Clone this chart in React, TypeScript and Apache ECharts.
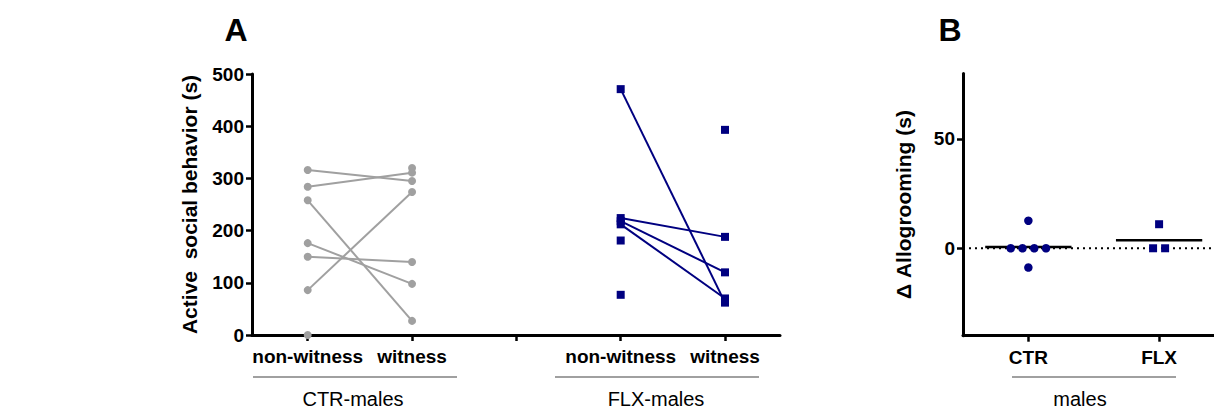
import React, { useEffect, useRef } from "react";
import * as echarts from "echarts";

// ---------- Panel A data ----------
const groupLabelsA = ["non-witness", "witness", "", "non-witness", "witness"];
const groupTitlesA = ["CTR-males", "FLX-males"];
// paired values (null = unpaired animal)
const ctrNonWitness = [316, 284, 258, 176, 150, 86, 0, null];
const ctrWitness = [295, 311, 27, 98, 140, 274, null, 320];
const flxNonWitness = [471, 224, 218, 212, 181, 77, null];
const flxWitness = [62, 188, 120, 70, null, null, 393];
const yTicksA = [0, 100, 200, 300, 400, 500];

// ---------- Panel B data ----------
const groupLabelsB = ["CTR", "FLX"];
const groupTitleB = "males";
const ctrDelta = [0, 0, 0, 0, 12.6, -8.8];
const ctrJitter = [-0.135, -0.045, 0.045, 0.135, 0, 0];
const flxDelta = [11, 0, 0];
const flxJitter = [0, -0.046, 0.046];
const yTicksB = [0, 50];

const FONT = '"Liberation Sans", Arial, Helvetica, sans-serif';
const GRAY = "#a0a0a0";
const NAVY = "#000080";

function pairSeries(a: (number | null)[], b: (number | null)[], xa: number, xb: number, color: string) {
  const out: any[] = [];
  a.forEach((v, i) => {
    const w = b[i];
    if (v != null && w != null) {
      out.push({
        type: "line",
        xAxisIndex: 0,
        yAxisIndex: 0,
        data: [[xa, v], [xb, w]],
        symbol: "none",
        silent: true,
        lineStyle: { color, width: 2 },
        z: 2,
      });
    }
  });
  return out;
}

function points(a: (number | null)[], x: number) {
  return a.filter((v) => v != null).map((v) => [x, v]);
}

const mean = (arr: number[]) => arr.reduce((s, v) => s + v, 0) / arr.length;

export default function App() {
  const ref = useRef<HTMLDivElement>(null);
  useEffect(() => {
    document.body.style.margin = "0";
    if (!ref.current) return;
    const chart = echarts.init(ref.current, undefined, { renderer: "svg" });

    const axisLine = { show: true, onZero: false, lineStyle: { color: "#000", width: 3 } };
    const axisTick = { show: true, length: 6, lineStyle: { color: "#000", width: 2.5 } };
    const labelBase = { color: "#000", fontFamily: FONT, fontWeight: "bold" as const };

    const series: any[] = [
      ...pairSeries(ctrNonWitness, ctrWitness, 1, 2, GRAY),
      ...pairSeries(flxNonWitness, flxWitness, 4, 5, NAVY),
      {
        type: "scatter",
        xAxisIndex: 0,
        yAxisIndex: 0,
        symbol: "circle",
        symbolSize: 8,
        itemStyle: { color: GRAY, opacity: 1 },
        data: [...points(ctrNonWitness, 1), ...points(ctrWitness, 2)],
        z: 3,
      },
      {
        type: "scatter",
        xAxisIndex: 0,
        yAxisIndex: 0,
        symbol: "rect",
        symbolSize: 8,
        itemStyle: { color: NAVY, opacity: 1 },
        data: [...points(flxNonWitness, 4), ...points(flxWitness, 5)],
        z: 3,
      },
      // panel B
      {
        type: "line",
        xAxisIndex: 1,
        yAxisIndex: 1,
        data: [[0.5, 0], [2.42, 0]],
        symbol: "none",
        silent: true,
        lineStyle: { color: "#000", width: 2, type: [2, 4] },
        z: 1,
      },
      {
        type: "line",
        xAxisIndex: 1,
        yAxisIndex: 1,
        data: [[1 - 0.33, mean(ctrDelta)], [1 + 0.33, mean(ctrDelta)]],
        symbol: "none",
        silent: true,
        lineStyle: { color: "#000", width: 2.5 },
        z: 2,
      },
      {
        type: "line",
        xAxisIndex: 1,
        yAxisIndex: 1,
        data: [[2 - 0.33, mean(flxDelta)], [2 + 0.33, mean(flxDelta)]],
        symbol: "none",
        silent: true,
        lineStyle: { color: "#000", width: 2.5 },
        z: 2,
      },
      {
        type: "scatter",
        xAxisIndex: 1,
        yAxisIndex: 1,
        symbol: "circle",
        symbolSize: 8.5,
        itemStyle: { color: NAVY, opacity: 1 },
        data: ctrDelta.map((v, i) => [1 + ctrJitter[i], v]),
        z: 3,
      },
      {
        type: "scatter",
        xAxisIndex: 1,
        yAxisIndex: 1,
        symbol: "rect",
        symbolSize: 8,
        itemStyle: { color: NAVY, opacity: 1 },
        data: flxDelta.map((v, i) => [2 + flxJitter[i], v]),
        z: 3,
      },
    ];

    const groupLine = (x1: number, x2: number) => ({
      type: "line",
      shape: { x1, y1: 377, x2, y2: 377 },
      style: { stroke: "#808080", lineWidth: 1.5 },
    });
    const groupText = (text: string, x: number, y: number) => ({
      type: "text",
      x,
      y,
      style: {
        text,
        fill: "#000",
        font: `20px ${FONT}`,
        textAlign: "center",
        textVerticalAlign: "middle",
      },
    });

    chart.setOption({
      animation: false,
      backgroundColor: "#fff",
      grid: [
        { left: 252, top: 74, width: 528, height: 261 },
        { left: 963, top: 73.4, width: 251, height: 262.3 },
      ],
      xAxis: [
        {
          type: "value",
          gridIndex: 0,
          min: 0.466,
          max: 5.527,
          axisLine,
          axisTick: { ...axisTick, customValues: [1, 2, 3, 4, 5] },
          axisLabel: {
            ...labelBase,
            fontSize: 19,
            margin: 12,
            customValues: [1, 2, 4, 5],
            formatter: (v: number) => groupLabelsA[Math.round(v) - 1] ?? "",
          },
          splitLine: { show: false },
        },
        {
          type: "value",
          gridIndex: 1,
          min: 0.5,
          max: 2.42,
          axisLine,
          axisTick: { ...axisTick, customValues: [1, 2] },
          axisLabel: {
            ...labelBase,
            fontSize: 19,
            margin: 12,
            customValues: [1, 2],
            formatter: (v: number) => groupLabelsB[Math.round(v) - 1] ?? "",
          },
          splitLine: { show: false },
        },
      ],
      yAxis: [
        {
          type: "value",
          gridIndex: 0,
          min: 0,
          max: 500,
          interval: 100,
          axisLine,
          axisTick: { ...axisTick, customValues: yTicksA },
          axisLabel: { ...labelBase, fontSize: 19, margin: 8, customValues: yTicksA },
          splitLine: { show: false },
          name: "Active  social behavior (s)",
          nameLocation: "middle",
          nameGap: 52,
          nameTextStyle: { ...labelBase, fontSize: 21 },
        },
        {
          type: "value",
          gridIndex: 1,
          min: -40,
          max: 80,
          axisLine,
          axisTick: { ...axisTick, customValues: yTicksB },
          axisLabel: { ...labelBase, fontSize: 19, margin: 8, customValues: yTicksB },
          splitLine: { show: false },
          name: "Δ Allogrooming (s)",
          nameLocation: "middle",
          nameGap: 49,
          nameTextStyle: { ...labelBase, fontSize: 21 },
        },
      ],
      graphic: [
        {
          type: "text",
          x: 236,
          y: 30,
          style: { text: "A", fill: "#000", font: `bold 32px ${FONT}`, textAlign: "center", textVerticalAlign: "middle" },
        },
        {
          type: "text",
          x: 950,
          y: 30,
          style: { text: "B", fill: "#000", font: `bold 32px ${FONT}`, textAlign: "center", textVerticalAlign: "middle" },
        },
        groupLine(253, 457),
        groupLine(555, 759),
        groupLine(1012, 1176),
        groupText(groupTitlesA[0], 353, 399),
        groupText(groupTitlesA[1], 656, 399),
        groupText(groupTitleB, 1080, 399),
      ],
      series,
    });
    return () => chart.dispose();
  }, []);
  return <div ref={ref} style={{ width: 1214, height: 412 }} />;
}
